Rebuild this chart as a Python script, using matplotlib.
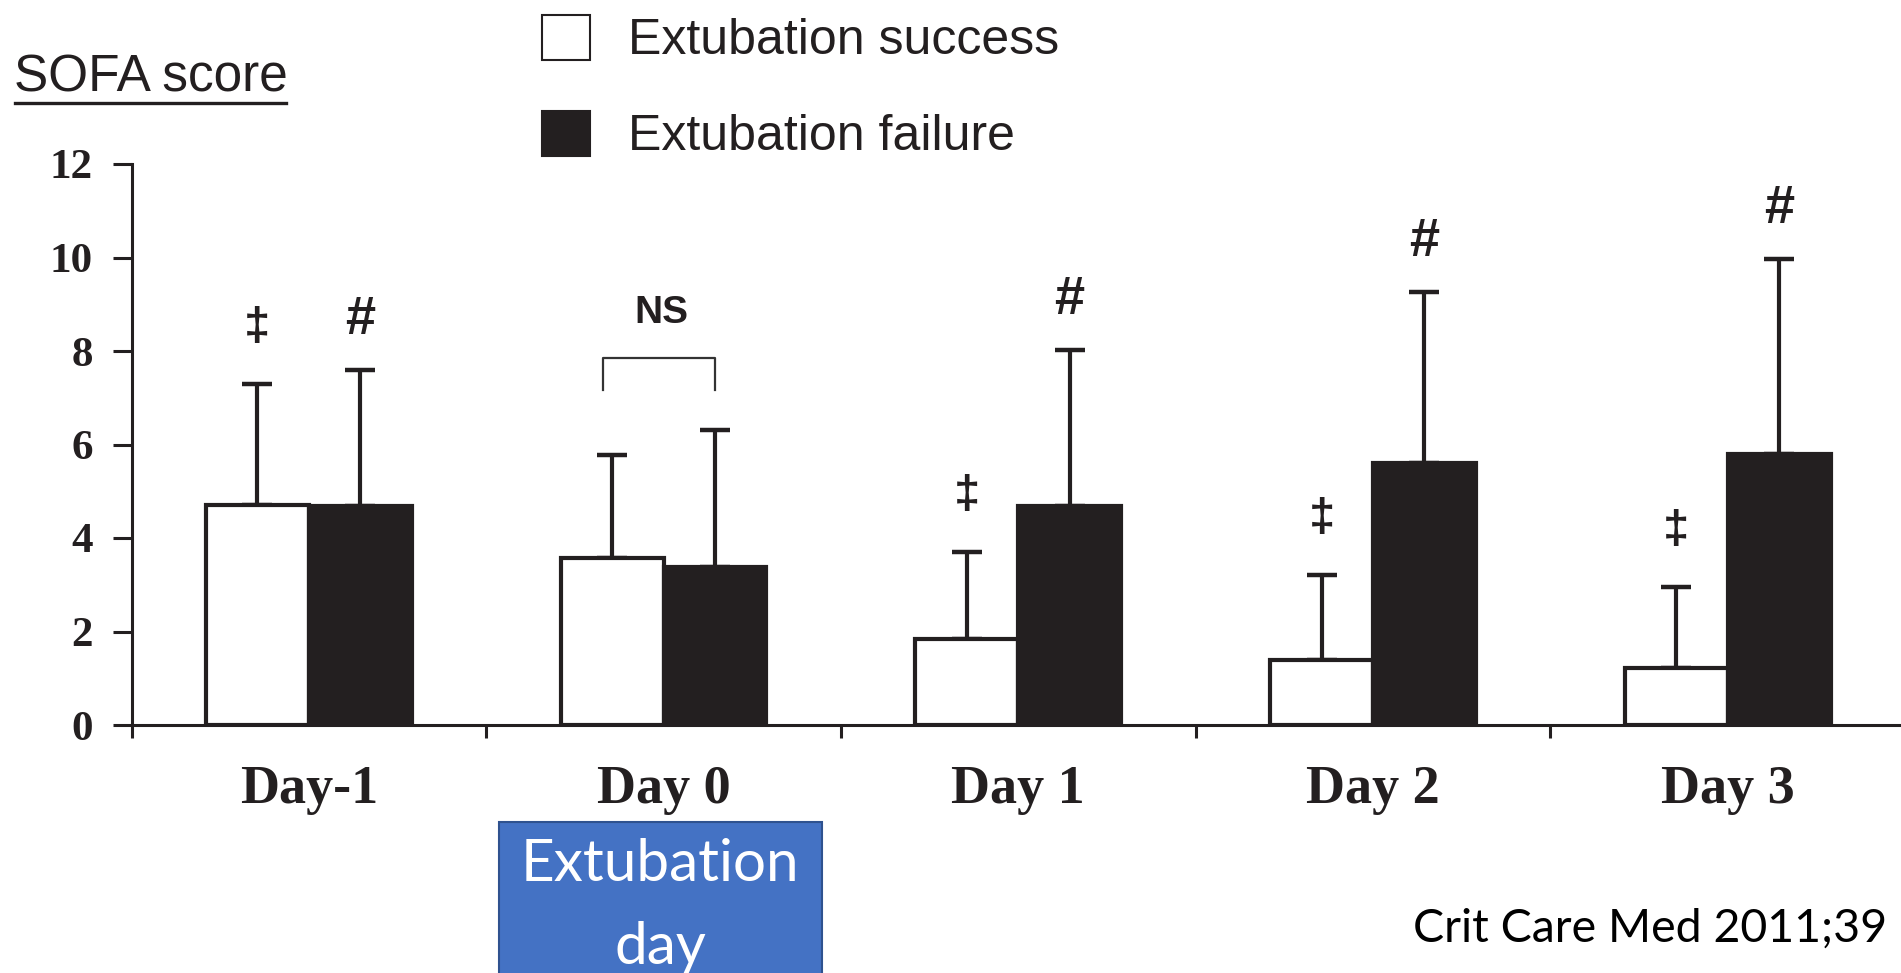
import matplotlib
matplotlib.use("Agg")
import matplotlib.pyplot as plt
from matplotlib.patches import Patch, Rectangle
from matplotlib.lines import Line2D
import numpy as np

# ---- data ----
days = ["Day-1", "Day 0", "Day 1", "Day 2", "Day 3"]
success_mean = [4.70, 3.58, 1.84, 1.40, 1.22]
success_sd = [2.59, 2.20, 1.86, 1.81, 1.73]
failure_mean = [4.69, 3.39, 4.69, 5.60, 5.80]
failure_sd = [2.90, 2.91, 3.34, 3.67, 4.17]
success_marks = ["‡", "", "‡", "‡", "‡"]
failure_marks = ["#", "", "#", "#", "#"]
yticks = [0, 2, 4, 6, 8, 10, 12]
legend_labels = ["Extubation success", "Extubation failure"]

W, H = 1901, 973
DARK = "#231f20"

plt.rcParams["font.family"] = ["Liberation Sans", "DejaVu Sans"]

fig = plt.figure(figsize=(W / 100, H / 100), dpi=100)
fig.patch.set_facecolor("white")

def fx(x):
    return x / W

def fy(y):
    return 1 - y / H

ax = fig.add_axes([fx(131.5), 1 - 725 / H, 1773.5 / W, (725 - 164) / H])

n = len(days)
centers = np.arange(n) + 0.5
bw = 0.29
xs = centers - 0.145
xf = centers + 0.145

ax.bar(xs, success_mean, width=bw, color="white", edgecolor=DARK, linewidth=3, zorder=3)
ax.bar(xf, failure_mean, width=bw, color=DARK, edgecolor=DARK, linewidth=3, zorder=3)

ax.errorbar(xs, success_mean, yerr=[np.zeros(n), success_sd], fmt="none",
            ecolor=DARK, elinewidth=3.0, capsize=10.5, capthick=3.2, zorder=2)
ax.errorbar(xf, failure_mean, yerr=[np.zeros(n), failure_sd], fmt="none",
            ecolor=DARK, elinewidth=3.0, capsize=10.5, capthick=3.2, zorder=2)

for i in range(n):
    if success_marks[i]:
        ax.text(xs[i], success_mean[i] + success_sd[i] + 1.2, success_marks[i],
                ha="center", va="center", fontsize=34, fontweight="bold", color=DARK)
    if failure_marks[i]:
        ax.text(xf[i], failure_mean[i] + failure_sd[i] + 1.07, failure_marks[i],
                ha="center", va="center", fontsize=39, fontweight="bold", color=DARK)

# NS bracket on Day 0
ax.plot([1.33, 1.33, 1.645, 1.645], [7.16, 7.84, 7.84, 7.16], color="#333333", lw=1.6, zorder=3)
ax.text(1.494, 8.82, "NS", ha="center", va="center", fontsize=28, fontweight="bold", color=DARK)

ax.set_xlim(0, 5)
ax.set_ylim(0, 12)
for s in ["top", "right"]:
    ax.spines[s].set_visible(False)
for s in ["left", "bottom"]:
    ax.spines[s].set_linewidth(2.2)
    ax.spines[s].set_color(DARK)

ax.set_yticks(yticks)
ax.set_yticklabels([str(v) for v in yticks], fontfamily="Liberation Serif",
                   fontweight="bold", fontsize=31, color=DARK)
ax.tick_params(axis="y", direction="out", length=13.7, width=2.2, color=DARK, pad=14)

ax.set_xticks(np.arange(0, 6))
ax.set_xticklabels([])
ax.set_xticks(centers, minor=True)
ax.set_xticklabels(days, minor=True, fontfamily="Liberation Serif",
                   fontweight="bold", fontsize=39, color=DARK)
ax.tick_params(axis="x", which="major", direction="out", length=9.5, width=2.2, color=DARK)
ax.tick_params(axis="x", which="minor", length=0, pad=29)

# y-axis title with underline
fig.text(fx(14), fy(92), "SOFA score", fontsize=37, color=DARK,
         ha="left", va="baseline")
fig.add_artist(Line2D([fx(15), fx(286)], [fy(103), fy(103)], color=DARK, lw=2.4))

# legend
handles = [Patch(facecolor="white", edgecolor=DARK, linewidth=1.5),
           Patch(facecolor=DARK, edgecolor=DARK, linewidth=1.5)]
fig.legend(handles, legend_labels, loc="upper left", bbox_to_anchor=(fx(542), fy(15)),
           frameon=False, fontsize=36, handlelength=0.96, handleheight=1.0,
           handletextpad=0.76, labelspacing=0.93, borderpad=0, borderaxespad=0,
           labelcolor=DARK)

# blue box
fig.add_artist(Rectangle((fx(499), fy(985)), (822 - 499) / W, (985 - 822) / H,
                         transform=fig.transFigure, facecolor="#4472C4",
                         edgecolor="#2F528F", linewidth=1.5))
fig.text(fx(660), fy(881), "Extubation", fontfamily="Lato", fontsize=42,
         color="white", ha="center", va="baseline")
fig.text(fx(660), fy(964), "day", fontfamily="Lato", fontsize=42,
         color="white", ha="center", va="baseline")

fig.text(fx(1413), fy(942), "Crit Care Med 2011;39", fontfamily="Lato",
         fontsize=33.5, color="black", ha="left", va="baseline")

fig.savefig("out.png", dpi=100, facecolor="white")
